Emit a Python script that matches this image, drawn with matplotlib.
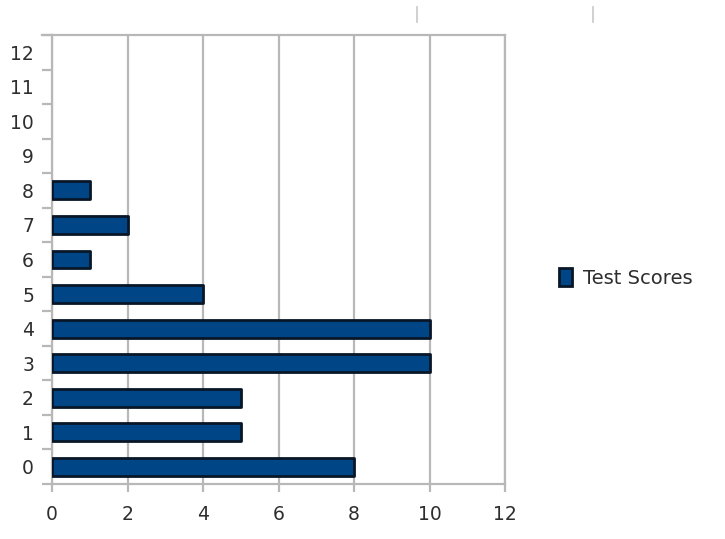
import matplotlib
matplotlib.use("Agg")
import matplotlib.pyplot as plt
from matplotlib.lines import Line2D
from matplotlib.patches import Patch
import numpy as np

# Data
categories = [str(i) for i in range(13)]
scores = [8, 5, 5, 10, 10, 4, 1, 2, 1, 0, 0, 0, 0]
x_ticks = [0, 2, 4, 6, 8, 10, 12]
series_name = "Test Scores"

bar_color = "#004586"
edge_color = "#081628"
grid_color = "#b8b8b8"
text_color = "#2e2e2e"

plt.rcParams["font.family"] = ["DejaVu Sans"]

fig = plt.figure(figsize=(7.25, 5.39), dpi=100)
ax = fig.add_axes([52 / 725, 1 - 484 / 539, (505 - 52) / 725, (484 - 35) / 539])

pos = np.arange(len(categories))
bars = ax.barh(pos, scores, height=0.52, color=bar_color, edgecolor=edge_color,
               linewidth=2.0, zorder=3)
for b, v in zip(bars, scores):
    b.set_joinstyle("round")
    if v == 0:
        b.set_linewidth(0)

ax.set_xlim(0, 12)
ax.set_ylim(-0.5, len(categories) - 0.5)

# Vertical grid lines
ax.set_xticks(x_ticks)
ax.xaxis.grid(True, color=grid_color, linewidth=1.6, zorder=0)
ax.yaxis.grid(False)

ax.set_yticks(pos)
ax.set_yticklabels(categories)
ax.set_yticks(np.arange(-0.5, len(categories), 1.0), minor=True)

ax.tick_params(axis="y", which="major", length=0, pad=13, labelsize=13.5,
               labelcolor=text_color)
ax.tick_params(axis="y", which="minor", length=7, width=1.6, color=grid_color)
ax.tick_params(axis="x", which="major", length=6, width=1.6, color=grid_color,
               pad=9, labelsize=13.5, labelcolor=text_color)

for side in ["left", "bottom", "top", "right"]:
    ax.spines[side].set_color(grid_color)
    ax.spines[side].set_linewidth(1.6)
    ax.spines[side].set_zorder(1)

# Top line extends left like the boundary ticks
fig.add_artist(Line2D([42 / 725, 52 / 725], [1 - 35 / 539, 1 - 35 / 539],
                      color=grid_color, linewidth=1.6))

# Small marks above the chart
for xp in [417, 593]:
    fig.add_artist(Line2D([xp / 725, xp / 725], [1 - 7 / 539, 1 - 22 / 539],
                          color="#c8c8c8", linewidth=1.2))

handle = Patch(facecolor=bar_color, edgecolor=edge_color, linewidth=2.0)
fig.legend([handle], [series_name], loc="center left",
           bbox_to_anchor=(541 / 725, 1 - 278 / 539), frameon=False,
           fontsize=14, handlelength=0.7, handleheight=1.0,
           handletextpad=0.55, labelcolor=text_color)

fig.savefig("out.png", dpi=100, facecolor="white")
